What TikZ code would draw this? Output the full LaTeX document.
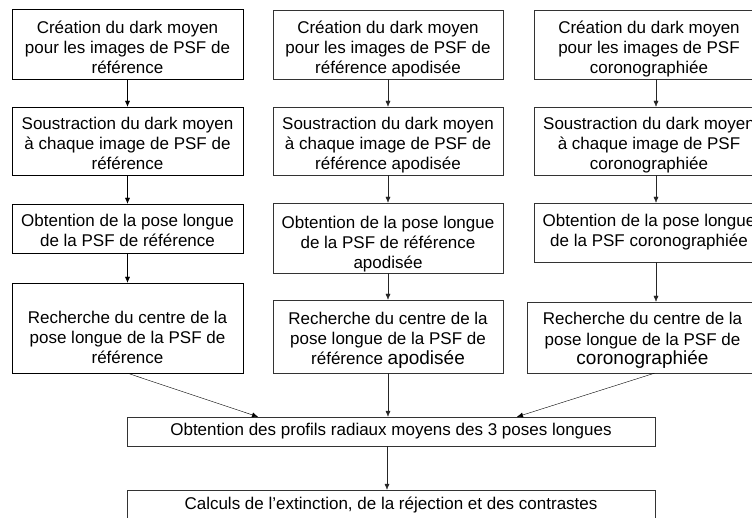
\documentclass[tikz,border=0pt]{standalone}
\usepackage{fontspec}
\setmainfont{Liberation Sans}
\usetikzlibrary{arrows.meta,calc,positioning}
\newcommand\grand[1]{{\fontsize{19}{20}\selectfont #1}}

\begin{document}
\begin{tikzpicture}[x=1pt,y=-1pt,>={Latex[length=6pt,width=5pt]},
  box/.style={draw,align=center,inner sep=0pt,font=\fontsize{17}{20}\selectfont},
  tb/.style={text height=#1pt,text depth=0pt},
  colA/.style={box,minimum width=231pt},
  colB/.style={box,minimum width=230pt,draw=black!80},
  colC/.style={box,minimum width=230pt,draw=black!80},
  wide/.style={box,minimum width=528pt,draw=black!80},
  flow/.style={->,black!85}]
\clip (0,0) rectangle (752,518);
% colonne 1 : PSF de reference
\node[colA,minimum height=70pt,tb=59] (c1a) at (127.5,44) {Création du dark moyen\\pour les images de PSF de\\référence};
\node[colA,minimum height=68pt,tb=57] (c1b) at (127.5,141) {Soustraction du dark moyen\\à chaque image de PSF de\\référence};
\node[colA,minimum height=49pt,tb=36] (c1c) at (127.5,228.5) {Obtention de la pose longue\\de la PSF de référence};
\node[colA,minimum height=90pt,tb=71] (c1d) at (127.5,328) {Recherche du centre de la\\pose longue de la PSF de\\référence};
% colonne 2 : PSF apodisee
\node[colB,minimum height=69pt,tb=58] (c2a) at (388,44.5) {Création du dark moyen\\pour les images de PSF de\\référence apodisée};
\node[colB,minimum height=68pt,tb=57] (c2b) at (388,141) {Soustraction du dark moyen\\à chaque image de PSF de\\référence apodisée};
\node[colB,minimum height=70pt,tb=61] (c2c) at (388,238) {Obtention de la pose longue\\de la PSF de référence\\apodisée};
\node[colB,minimum height=73pt,tb=56] (c2d) at (388,336.5) {Recherche du centre de la\\pose longue de la PSF de\\référence \grand{apodisée}};
% colonne 3 : PSF coronographiee
\node[colC,minimum height=69pt,tb=58] (c3a) at (649,44.5) {Création du dark moyen\\pour les images de PSF\\coronographiée};
\node[colC,minimum height=68pt,tb=57] (c3b) at (649,141) {Soustraction du dark moyen\\à chaque image de PSF\\coronographiée};
\node[colC,minimum height=59pt,tb=28] (c3c) at (649,232.5) {Obtention de la pose longue\\de la PSF coronographiée};
\node[colC,minimum height=71pt,minimum width=231pt,tb=55] (c3d) at (642.5,337.5) {Recherche du centre de la\\pose longue de la PSF de\\\grand{coronographiée}};
% profils et calculs
\node[wide,minimum height=29pt] (prof) at (391,431.5) {Obtention des profils radiaux moyens des 3 poses longues};
\node[wide,minimum height=30pt] (calc) at (391,505) {Calculs de l’extinction, de la réjection et des contrastes};
\draw[->] (c1a) -- (c1b);
\draw[->] (c1b) -- (c1c);
\draw[->] (c1c) -- (c1d);
\draw[flow] (c2a) -- (c2b);
\draw[flow] (c2b) -- (c2c);
\draw[flow] (c2c) -- (c2d);
\draw[flow] ([xshift=7pt]c3a.south) -- ([xshift=7pt]c3b.north);
\draw[flow] ([xshift=7pt]c3b.south) -- ([xshift=7pt]c3c.north);
\draw[flow] ([xshift=7pt]c3c.south) -- ([xshift=7pt]c3c.south |- c3d.north);
\draw[->] (c1d.south) -- ([xshift=-133pt]prof.north);
\draw[flow] (c2d.south) -- (c2d.south |- prof.north);
\draw[->] ([xshift=12pt]c3d.south) -- ([xshift=126pt]prof.north);
\draw[flow] ([xshift=-4pt]prof.south) -- ([xshift=-4pt]calc.north);
\end{tikzpicture}
\end{document}
